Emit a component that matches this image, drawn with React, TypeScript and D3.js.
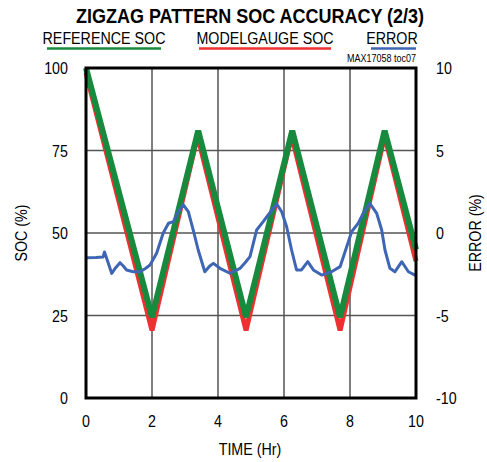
import React from 'react';
import * as d3 from 'd3';

// values
const refTime = [0, 2.0, 3.4, 4.85, 6.25, 7.7, 9.05, 10];
const refSoc = [100, 24.5, 81, 24.5, 81, 24.5, 81, 45];

const modelTime = [0, 2.0, 3.38, 4.85, 6.23, 7.7, 9.05, 10];
const modelSoc = [98.5, 20.5, 79.5, 20.5, 79.5, 20.5, 79.5, 41.5];

const errTime = [
  0, 0.3, 0.52, 0.56, 0.62, 0.78, 0.9, 1.03, 1.13, 1.23, 1.43, 1.64, 1.8, 1.94, 2.14, 2.34,
  2.5, 2.65, 2.8, 2.95, 3.1, 3.25, 3.4, 3.6, 3.75, 3.86, 4.06, 4.36, 4.67, 4.82, 4.97, 5.17,
  5.37, 5.52, 5.78, 5.93, 6.08, 6.23, 6.38, 6.53, 6.72, 6.89, 7.14, 7.44, 7.7, 7.9, 8.05,
  8.25, 8.4, 8.6, 8.81, 8.96, 9.06, 9.21, 9.36, 9.57, 9.77, 9.97, 10,
];
const errVal = [
  -1.5, -1.48, -1.45, -1.15, -1.5, -2.45, -2.1, -1.8, -2.0, -2.24, -2.35, -2.35, -2.15, -1.94, -1.23, 0,
  0.59, 0.69, 1.3, 1.7, 1.29, 0.18, -1.03, -2.35, -2.0, -1.84, -2.14, -2.44, -2.14, -1.8, -1.43, 0.18,
  0.69, 1.09, 1.76, 1.29, 0.38, -1.03, -2.24, -2.24, -1.74, -2.24, -2.55, -2.35, -2.04, -0.83, 0.08,
  0.59, 1.19, 1.8, 1.19, 0.18, -1.03, -2.14, -2.35, -1.74, -2.35, -2.55, -2.55,
];

const xTicks = [0, 2, 4, 6, 8, 10];
const socTicks = [0, 25, 50, 75, 100];
const errTicks = [-10, -5, 0, 5, 10];

const legendItems = [
  { label: 'REFERENCE SOC', color: '#178a3e' },
  { label: 'MODELGAUGE SOC', color: '#ee3030' },
  { label: 'ERROR', color: '#3e66b4' },
];

const W = 487;
const H = 462;
const margin = { top: 68, right: 71, bottom: 64, left: 86 };
const font = '"Liberation Sans", Arial, sans-serif';

type Pt = { t: number; v: number };
const zip = (ts: number[], vs: number[]): Pt[] => ts.map((t, i) => ({ t, v: vs[i] }));

// the original uses a condensed face; squeeze Liberation Sans horizontally
const Txt = ({ x, y, anchor = 'start', size = 17, sx = 0.84, rot = 0, bold = false, children }: any) => (
  <text
    transform={`translate(${x},${y}) rotate(${rot}) scale(${sx},1)`}
    textAnchor={anchor}
    fontSize={size}
    fontWeight={bold ? 'bold' : 'normal'}
  >
    {children}
  </text>
);

export default function App() {
  const x = d3.scaleLinear().domain([0, 10]).range([margin.left, W - margin.right]);
  const ySoc = d3.scaleLinear().domain([0, 100]).range([H - margin.bottom, margin.top]);
  const yErr = d3.scaleLinear().domain([-10, 10]).range([H - margin.bottom, margin.top]);

  const socLine = d3.line<Pt>().x(d => x(d.t)).y(d => ySoc(d.v));
  const errLine = d3.line<Pt>().x(d => x(d.t)).y(d => yErr(d.v));

  const x0 = x(0), x1 = x(10), y0 = ySoc(0), y1 = ySoc(100);

  // legend positions (text centre, line start / end)
  const legendPos = [
    { tx: 104, lx0: 47, lx1: 161 },
    { tx: 265, lx0: 199, lx1: 331 },
    { tx: 392, lx0: 371, lx1: 416 },
  ];

  return (
    <svg width={W} height={H} style={{ position: 'absolute', left: 0, top: 0 }} fontFamily={font}>
      <rect width={W} height={H} fill="#fff" />
      <Txt x={250} y={23} anchor="middle" size={20} sx={0.9} bold>
        ZIGZAG PATTERN SOC ACCURACY (2/3)
      </Txt>
      {legendItems.map((item, i) => (
        <g key={item.label}>
          <Txt x={legendPos[i].tx} y={44} anchor="middle">{item.label}</Txt>
          <line x1={legendPos[i].lx0} x2={legendPos[i].lx1} y1={48.5} y2={48.5}
            stroke={item.color} strokeWidth={2.5} />
        </g>
      ))}
      <Txt x={x1} y={62} anchor="end" size={10} sx={0.9}>MAX17058 toc07</Txt>

      {/* grid */}
      {xTicks.slice(1, -1).map(t => (
        <line key={'gx' + t} x1={x(t)} x2={x(t)} y1={y1} y2={y0} stroke="#555" strokeWidth={1.5} />
      ))}
      {socTicks.slice(1, -1).map(v => (
        <line key={'gy' + v} x1={x0} x2={x1} y1={ySoc(v)} y2={ySoc(v)} stroke="#555" strokeWidth={1.5} />
      ))}

      {/* series */}
      <path d={socLine(zip(modelTime, modelSoc)) || ''} fill="none" stroke="#ee3030" strokeWidth={5} />
      <path d={socLine(zip(refTime, refSoc)) || ''} fill="none" stroke="#178a3e" strokeWidth={6} />
      <path d={errLine(zip(errTime, errVal)) || ''} fill="none" stroke="#3e66b4" strokeWidth={3}
        strokeLinejoin="round" />

      {/* frame */}
      <rect x={x0} y={y1} width={x1 - x0} height={y0 - y1} fill="none" stroke="#000" strokeWidth={3} />

      {/* axes labels */}
      {xTicks.map(t => (
        <Txt key={'xt' + t} x={x(t)} y={427} anchor="middle">{t}</Txt>
      ))}
      {socTicks.map(v => (
        <Txt key={'yl' + v} x={68} y={ySoc(v) + 6} anchor="end">{v}</Txt>
      ))}
      {errTicks.map(v => (
        <Txt key={'yr' + v} x={436} y={yErr(v) + 6}>{v}</Txt>
      ))}
      <Txt x={250} y={455} anchor="middle">TIME (Hr)</Txt>
      <Txt x={27} y={233} anchor="middle" rot={-90}>SOC (%)</Txt>
      <Txt x={481} y={233} anchor="middle" rot={-90}>ERROR (%)</Txt>
    </svg>
  );
}
